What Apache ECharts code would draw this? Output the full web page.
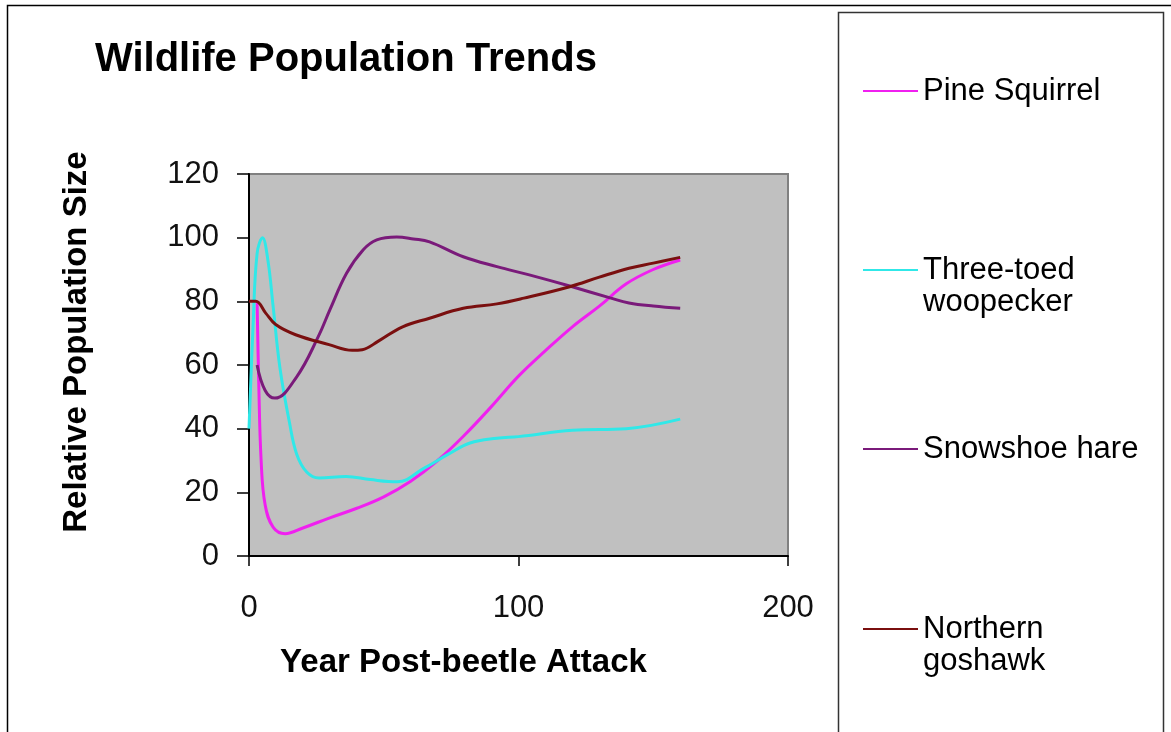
<!DOCTYPE html>
<html>
<head>
<meta charset="utf-8">
<script src="https://cdn.jsdelivr.net/npm/echarts@6/dist/echarts.min.js"></script>
<style>
html,body{margin:0;padding:0;background:#fff;}
#chart{width:1171px;height:732px;}
</style>
</head>
<body>
<div id="chart"></div>
<script>
const seriesNames = ['Pine Squirrel', 'Three-toed woopecker', 'Snowshoe hare', 'Northern goshawk'];
const legendLabels = ['Pine Squirrel', '\nThree-toed\nwoopecker', 'Snowshoe hare', '\nNorthern\ngoshawk'];

const pineYears   = [3, 3.6, 4.5, 6, 9, 13.4, 20, 30, 40, 50, 60, 70, 80, 90, 100, 110, 120, 130, 140, 150, 160];
const pineValues  = [80, 55, 30, 16, 9, 7, 8.8, 12, 15, 18.6, 23.5, 30, 38, 47, 56.5, 64.5, 72, 78.5, 85.5, 90, 93];

const woodYears   = [0, 1.5, 3, 5, 7, 9, 11.5, 15, 17.7, 21.4, 26, 36, 45, 55, 65, 74, 82, 92, 100, 120, 140, 160];
const woodValues  = [40, 72, 95, 100, 93, 78, 59, 42, 32, 26.4, 24.5, 25, 24, 23.3, 27.6, 32, 35.5, 37, 37.5, 39.5, 40, 43];

const hareYears   = [3, 6, 9.6, 17.7, 25.7, 30, 36.2, 42.4, 47.4, 54.8, 61, 67, 79.5, 92, 104, 119, 134, 141, 150, 160];
const hareValues  = [60, 52, 49.6, 56.3, 68.9, 77.3, 88.8, 96.2, 99.3, 100.2, 99.6, 98.7, 94, 90.9, 88.3, 84.8, 81.1, 79.5, 78.5, 77.8];

const hawkYears   = [0, 2.5, 6.2, 9.9, 17.3, 29.7, 38.3, 42, 48, 57, 67, 79.5, 92, 102, 119, 130, 141, 150, 160];
const hawkValues  = [80, 80, 76.3, 72.7, 69.5, 66.4, 64.6, 64.8, 67.5, 72, 74.7, 77.8, 79.2, 81, 84.6, 87.6, 90.4, 92, 93.8];

const xTicks = [0, 100, 200];
const yTicks = [0, 20, 40, 60, 80, 100, 120];

const colors = ['#F020F0', '#30E8E8', '#7A1A7A', '#7A0F0F'];

function pairs(xs, ys) { return xs.map((x, i) => [x, ys[i]]); }
const allData = [
  pairs(pineYears, pineValues),
  pairs(woodYears, woodValues),
  pairs(hareYears, hareValues),
  pairs(hawkYears, hawkValues)
];

const FONT = '"Liberation Sans", Arial, sans-serif';
const legendTops = [75, 222, 433, 581];

const chart = echarts.init(document.getElementById('chart'), null, {renderer: 'canvas'});
chart.setOption({
  animation: false,
  backgroundColor: '#ffffff',
  title: {
    text: 'Wildlife Population Trends',
    left: 95, top: 40, padding: 0,
    textStyle: {fontFamily: FONT, fontSize: 40, fontWeight: 'bold', color: '#000'}
  },
  graphic: [
    {type: 'rect', shape: {x: 7.5, y: 5.5, width: 1300, height: 900}, style: {fill: 'none', stroke: '#000', lineWidth: 1.5}, silent: true, z: -1},
    {type: 'rect', shape: {x: 838.5, y: 12.5, width: 325, height: 900}, style: {fill: 'none', stroke: '#333', lineWidth: 1.5}, silent: true, z: -1}
  ],
  legend: seriesNames.map((n, i) => ({
    data: [n],
    orient: 'vertical',
    left: 863, top: legendTops[i], padding: 0,
    icon: 'rect', itemWidth: 55, itemHeight: 2, itemGap: 0,
    formatter: () => legendLabels[i],
    textStyle: {fontFamily: FONT, fontSize: 31, color: '#000', lineHeight: 32}
  })),
  grid: {
    left: 249, top: 174, width: 539, height: 382,
    show: true, backgroundColor: '#C0C0C0', borderColor: '#808080', borderWidth: 2
  },
  xAxis: {
    type: 'value', min: xTicks[0], max: xTicks[xTicks.length - 1], interval: 100,
    name: 'Year Post-beetle Attack', nameLocation: 'middle', nameGap: 90,
    nameTextStyle: {fontFamily: FONT, fontSize: 33, fontWeight: 'bold', color: '#000', padding: [0, 110, 0, 0]},
    axisLine: {show: true, lineStyle: {color: '#000', width: 2}},
    axisTick: {show: true, length: 10, lineStyle: {color: '#000', width: 1.5}},
    axisLabel: {margin: 37, fontFamily: FONT, fontSize: 31, color: '#111'},
    splitLine: {show: false}
  },
  yAxis: {
    type: 'value', min: yTicks[0], max: yTicks[yTicks.length - 1], interval: 20,
    name: 'Relative Population Size', nameLocation: 'middle', nameGap: 156, nameRotate: 90,
    nameTextStyle: {fontFamily: FONT, fontSize: 33, fontWeight: 'bold', color: '#000', padding: [0, 0, 0, 46]},
    axisLine: {show: true, lineStyle: {color: '#000', width: 2}},
    axisTick: {show: true, length: 12, lineStyle: {color: '#000', width: 1.5}},
    axisLabel: {margin: 30, fontFamily: FONT, fontSize: 31, color: '#111'},
    splitLine: {show: false}
  },
  series: seriesNames.map((n, i) => ({
    name: n, type: 'line', data: allData[i],
    smooth: 0.4, showSymbol: false, symbol: 'none',
    color: colors[i],
    lineStyle: {color: colors[i], width: 3},
    clip: true
  }))
});
</script>
</body>
</html>
